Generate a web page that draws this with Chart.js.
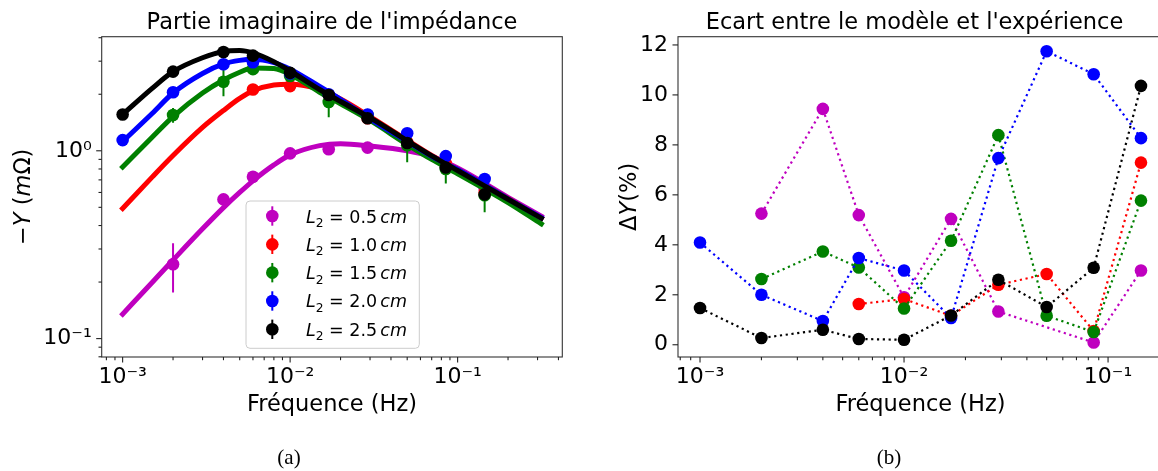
<!DOCTYPE html>
<html><head><meta charset="utf-8">
<script src="https://cdn.jsdelivr.net/npm/chart.js@4.4.1/dist/chart.umd.min.js"></script>
<style>
html,body{margin:0;padding:0;background:#fff;overflow:hidden;width:1158px;height:471px;position:relative;}
#ca{position:absolute;left:0;top:0;}
#cb{position:absolute;left:579px;top:0;}
</style></head><body>
<canvas id="ca" width="579" height="471"></canvas>
<canvas id="cb" width="621" height="471"></canvas>
<script>
// ---------- data ----------
const freqs = [0.001, 0.002, 0.004, 0.006, 0.01, 0.017, 0.029, 0.05, 0.085, 0.145];
const seriesNames = ['0.5', '1.0', '1.5', '2.0', '2.5'];
const seriesColors = ['#bf00bf', '#ff0000', '#008000', '#0000ff', '#000000'];

// (a) measured -Y (mOhm)
const measL05 = [null, 0.249, 0.551, 0.727, 0.969, 1.02, 1.04, null, 0.85, 0.63];
const measL10 = [null, null, null, 2.12, 2.21, 1.98, 1.49, 1.11, 0.855, 0.60];
const measL15 = [null, 1.55, 2.33, 2.72, 2.50, 1.82, 1.55, 1.07, 0.80, 0.58];
const measL20 = [1.14, 2.05, 2.89, 2.96, 2.58, 2.00, 1.56, 1.24, 0.937, 0.707];
const measL25 = [1.56, 2.64, 3.36, 3.21, 2.60, 1.98, 1.49, 1.10, 0.815, 0.586];
// (a) error bars
const errL05 = [null, 0.073, 0.015, 0.02, 0.02, 0.02, 0.02, null, 0.02, 0.02];
const errL10 = [null, null, null, 0.03, 0.03, 0.03, 0.03, 0.03, 0.03, 0.03];
const errL15 = [null, 0.14, 0.38, 0.06, 0.06, 0.31, 0.06, 0.20, 0.13, 0.11];
const errL20 = [0.03, 0.05, 0.05, 0.05, 0.05, 0.05, 0.03, 0.03, 0.02, 0.02];
const errL25 = [0.03, 0.05, 0.05, 0.05, 0.05, 0.05, 0.03, 0.03, 0.02, 0.02];
// (a) model curves
const modelFreqs = [0.001, 0.0015, 0.002, 0.003, 0.004, 0.005, 0.006, 0.008, 0.01, 0.015, 0.02, 0.03, 0.05, 0.07, 0.1, 0.2, 0.316];
const modelL05 = [0.135, 0.199, 0.262, 0.384, 0.498, 0.60, 0.692, 0.841, 0.951, 1.065, 1.09, 1.06, 1.00, 0.93, 0.81, 0.565, 0.448];
const modelL10 = [0.493, 0.724, 0.944, 1.332, 1.639, 1.90, 2.085, 2.24, 2.26, 2.12, 1.886, 1.52, 1.14, 0.945, 0.795, 0.557, 0.438];
const modelL15 = [0.82, 1.18, 1.52, 2.03, 2.38, 2.62, 2.76, 2.74, 2.55, 2.05, 1.78, 1.45, 1.08, 0.90, 0.755, 0.53, 0.408];
const modelL20 = [1.12, 1.58, 2.03, 2.58, 2.90, 3.03, 3.07, 2.95, 2.72, 2.20, 1.88, 1.48, 1.12, 0.935, 0.795, 0.555, 0.44];
const modelL25 = [1.56, 2.15, 2.64, 3.13, 3.38, 3.42, 3.32, 2.98, 2.66, 2.12, 1.83, 1.50, 1.13, 0.94, 0.785, 0.552, 0.438];

// (b) deviation model / experiment (%)
const ecartL05 = [null, 5.25, 9.44, 5.19, 1.90, 5.04, 1.33, null, 0.09, 2.97];
const ecartL10 = [null, null, null, 1.63, 1.83, 1.16, 2.40, 2.83, 0.55, 7.29];
const ecartL15 = [null, 2.63, 3.73, 3.09, 1.45, 4.16, 8.39, 1.16, 0.51, 5.77];
const ecartL20 = [4.09, 2.00, 0.95, 3.47, 2.97, 1.07, 7.47, 11.75, 10.83, 8.27];
const ecartL25 = [1.47, 0.27, 0.60, 0.23, 0.20, 1.17, 2.60, 1.51, 3.08, 10.36];

// tick labels
const xTickVals = [0.001, 0.01, 0.1];
const xTickLabels = ['10\u207B\u00B3', '10\u207B\u00B2', '10\u207B\u00B9'];
const yTickValsA = [0.1, 1];
const yTickLabelsA = ['10\u207B\u00B9', '10\u2070'];
const yTickValsB = [0, 2, 4, 6, 8, 10, 12];
const yTickLabelsB = ['0', '2', '4', '6', '8', '10', '12'];

// axis ranges
const XA_MIN = 7.5e-4, XA_MAX = 0.4217, YA_MIN = 0.0798, YA_MAX = 4.05;
const XB_MIN = 7.8e-4, XB_MAX = 0.1859, YB_MIN = -0.49, YB_MAX = 12.33;

// ---------- helpers ----------
const FONT = '"DejaVu Sans"';
const TICK_SIZE = 22, LABEL_SIZE = 22.5, TITLE_SIZE = 22.5;
Chart.defaults.font.family = FONT;
Chart.defaults.color = '#000';

function segFont(g, size) { return (g.i ? 'italic ' : '') + (size * (g.s || 1)).toFixed(2) + 'px ' + FONT; }
function measureRich(ctx, segs, size) {
  let w = 0;
  for (const g of segs) { if (g.sp != null) { w += g.sp; continue; } ctx.font = segFont(g, size); w += ctx.measureText(g.t).width; }
  return w;
}
function drawRich(ctx, segs, x, y, size, align, rot) {
  ctx.save(); ctx.translate(x, y); if (rot) ctx.rotate(rot);
  const w = measureRich(ctx, segs, size);
  let cx = align === 'center' ? -w / 2 : 0;
  ctx.textBaseline = 'alphabetic'; ctx.textAlign = 'left'; ctx.fillStyle = '#000';
  for (const g of segs) {
    if (g.sp != null) { cx += g.sp; continue; }
    ctx.font = segFont(g, size); ctx.fillText(g.t, cx, g.dy || 0); cx += ctx.measureText(g.t).width;
  }
  ctx.restore();
}
function logTicks(scale) {
  const t = [];
  for (let e = -5; e <= 2; e++) for (let k = 1; k <= 9; k++) {
    const v = k * Math.pow(10, e);
    if (v >= scale.min * 0.99999 && v <= scale.max * 1.00001) t.push({ value: v, major: k === 1 });
  }
  scale.ticks = t;
}
function fixedTicks(vals) { return (scale) => { scale.ticks = vals.map(v => ({ value: v, major: true })); }; }
function labelFrom(vals, labels) {
  return (value) => { const i = vals.findIndex(v => Math.abs(v - value) <= Math.abs(v) * 1e-6 + 1e-12); return i >= 0 ? labels[i] : ''; };
}
const hiddenGrid = { display: true, drawOnChartArea: false, drawTicks: true, tickLength: 5, tickColor: 'rgba(0,0,0,0)', color: 'rgba(0,0,0,0)' };

function decorPlugin(cfg) {
  return {
    id: 'decor' + cfg.key,
    beforeDatasetDraw(chart, args) {
      const ds = chart.data.datasets[args.index];
      if (!ds.withErrors) return;
      const ctx = chart.ctx, a = chart.chartArea, xs = chart.scales.x, ys = chart.scales.y;
      ctx.save(); ctx.beginPath(); ctx.rect(a.left, a.top, a.right - a.left, a.bottom - a.top); ctx.clip();
      ctx.strokeStyle = ds.pointBackgroundColor; ctx.lineWidth = 2;
      for (const p of ds.data) {
        if (p.y == null || p.e == null) continue;
        const px = xs.getPixelForValue(p.x);
        const y1 = ys.getPixelForValue(Math.max(p.y - p.e, 1e-6)), y2 = ys.getPixelForValue(p.y + p.e);
        ctx.beginPath(); ctx.moveTo(px, y1); ctx.lineTo(px, y2); ctx.stroke();
      }
      ctx.restore();
    },
    afterDatasetsDraw(chart) {
      const ctx = chart.ctx, a = chart.chartArea;
      ctx.save(); ctx.strokeStyle = '#333'; ctx.lineWidth = 1.1;
      ctx.strokeRect(a.left, a.top, a.right - a.left, a.bottom - a.top);
      ctx.restore();
    },
    afterDraw(chart) {
      const ctx = chart.ctx, a = chart.chartArea;
      ctx.save(); ctx.strokeStyle = '#222'; ctx.lineWidth = 1.1;
      for (const t of chart.scales.x.ticks) {
        const px = chart.scales.x.getPixelForValue(t.value);
        const len = t.major ? 5.5 : 3.2;
        ctx.beginPath(); ctx.moveTo(px, a.bottom); ctx.lineTo(px, a.bottom + len); ctx.stroke();
      }
      for (const t of chart.scales.y.ticks) {
        const py = chart.scales.y.getPixelForValue(t.value);
        const len = t.major ? 5.5 : 3.2;
        ctx.beginPath(); ctx.moveTo(a.left, py); ctx.lineTo(a.left - len, py); ctx.stroke();
      }
      ctx.restore();
      const cx = (a.left + a.right) / 2;
      drawRich(ctx, [{ t: cfg.title }], cfg.titleX, 28.5, TITLE_SIZE, 'center');
      drawRich(ctx, [{ t: 'Fréquence (Hz)' }], cx, 411, LABEL_SIZE, 'center');
      drawRich(ctx, cfg.ylabel, cfg.ylabelX, (a.top + a.bottom) / 2, LABEL_SIZE, 'center', -Math.PI / 2);
      ctx.save(); ctx.font = '21px "Liberation Serif"'; ctx.fillStyle = '#000'; ctx.textAlign = 'center'; ctx.textBaseline = 'alphabetic';
      ctx.fillText(cfg.caption, cfg.captionX, 464); ctx.restore();
      if (cfg.legend) drawLegend(ctx);
    }
  };
}

function drawLegend(ctx) {
  const bx = 246, by = 201, bw = 173.3, bh = 147.3, r = 4;
  ctx.save();
  ctx.beginPath();
  ctx.moveTo(bx + r, by); ctx.lineTo(bx + bw - r, by); ctx.quadraticCurveTo(bx + bw, by, bx + bw, by + r);
  ctx.lineTo(bx + bw, by + bh - r); ctx.quadraticCurveTo(bx + bw, by + bh, bx + bw - r, by + bh);
  ctx.lineTo(bx + r, by + bh); ctx.quadraticCurveTo(bx, by + bh, bx, by + bh - r);
  ctx.lineTo(bx, by + r); ctx.quadraticCurveTo(bx, by, bx + r, by); ctx.closePath();
  ctx.fillStyle = 'rgba(255,255,255,0.8)'; ctx.fill();
  ctx.strokeStyle = '#cccccc'; ctx.lineWidth = 1; ctx.stroke();
  for (let k = 0; k < 5; k++) {
    const y = 216 + k * 28.33, mx = 272.3;
    ctx.strokeStyle = seriesColors[k]; ctx.lineWidth = 2;
    ctx.beginPath(); ctx.moveTo(mx, y - 9.7); ctx.lineTo(mx, y + 9.7); ctx.stroke();
    ctx.fillStyle = seriesColors[k]; ctx.beginPath(); ctx.arc(mx, y, 6.3, 0, Math.PI * 2); ctx.fill();
    drawRich(ctx, [
      { t: 'L', i: true }, { t: '2', s: 0.7, dy: 4.6 }, { sp: 5.5 }, { t: '=' }, { sp: 5.6 },
      { t: seriesNames[k] }, { sp: 3.2 }, { t: 'cm', i: true }
    ], 306, y + 6.5, 17.5, 'left');
  }
  ctx.restore();
}

// ---------- chart (a) ----------
const measured = [measL05, measL10, measL15, measL20, measL25];
const errors = [errL05, errL10, errL15, errL20, errL25];
const models = [modelL05, modelL10, modelL15, modelL20, modelL25];
const ecarts = [ecartL05, ecartL10, ecartL15, ecartL20, ecartL25];

const dsA = [];
for (let k = 0; k < 5; k++) {
  dsA.push({
    label: 'L2 = ' + seriesNames[k] + ' cm', type: 'line', showLine: false, withErrors: true,
    data: freqs.map((f, i) => ({ x: f, y: measured[k][i], e: errors[k][i] })).filter(p => p.y != null),
    pointRadius: 6.3, pointHoverRadius: 6.3, pointBackgroundColor: seriesColors[k], pointBorderWidth: 0,
    borderColor: seriesColors[k], order: 10 - 2 * k
  });
  dsA.push({
    label: 'model ' + seriesNames[k], type: 'line', fill: false,
    data: modelFreqs.map((f, i) => ({ x: f, y: models[k][i] })),
    borderColor: seriesColors[k], borderWidth: 5, pointRadius: 0, pointHoverRadius: 0,
    cubicInterpolationMode: 'monotone', borderCapStyle: 'square', borderJoinStyle: 'round', order: 9 - 2 * k
  });
}

new Chart(document.getElementById('ca'), {
  type: 'line',
  data: { datasets: dsA },
  options: {
    responsive: false, animation: false, events: [],
    layout: { padding: { left: 41.7, right: 16.7, top: 36.7, bottom: 74 } },
    plugins: { legend: { display: false }, tooltip: { enabled: false }, title: { display: false } },
    scales: {
      x: {
        type: 'logarithmic', position: 'bottom', min: XA_MIN, max: XA_MAX,
        afterBuildTicks: logTicks, afterFit: s => { s.height = 40; },
        grid: hiddenGrid, border: { display: false },
        ticks: { autoSkip: false, maxRotation: 0, minRotation: 0, padding: 2, font: { size: TICK_SIZE }, color: '#000', callback: labelFrom(xTickVals, xTickLabels) }
      },
      y: {
        type: 'logarithmic', position: 'left', min: YA_MIN, max: YA_MAX,
        afterBuildTicks: logTicks, afterFit: s => { s.width = 60; },
        grid: hiddenGrid, border: { display: false },
        ticks: { autoSkip: false, padding: 5, font: { size: TICK_SIZE }, color: '#000', callback: labelFrom(yTickValsA, yTickLabelsA) }
      }
    }
  },
  plugins: [decorPlugin({
    key: 'a', title: "Partie imaginaire de l'impédance", titleX: 332,
    ylabel: [{ t: '\u2212' }, { t: 'Y', i: true }, { t: ' (' }, { t: 'm', i: true }, { t: '\u03A9)' }],
    ylabelX: 29.5, caption: '(a)', captionX: 289, legend: true
  })]
});

// ---------- chart (b) ----------
const dsB = [];
for (let k = 0; k < 5; k++) {
  dsB.push({
    label: 'L2 = ' + seriesNames[k] + ' cm', type: 'line', fill: false, spanGaps: true,
    data: freqs.map((f, i) => ({ x: f, y: ecarts[k][i] })),
    borderColor: seriesColors[k], borderWidth: 2.2, borderDash: [2.2, 3.6], borderCapStyle: 'butt', tension: 0,
    pointRadius: 6.3, pointHoverRadius: 6.3, pointBackgroundColor: seriesColors[k], pointBorderWidth: 0,
    order: 5 - k
  });
}

new Chart(document.getElementById('cb'), {
  type: 'line',
  data: { datasets: dsB },
  options: {
    responsive: false, animation: false, events: [],
    layout: { padding: { left: 39, right: 37, top: 36.7, bottom: 74 } },
    plugins: { legend: { display: false }, tooltip: { enabled: false }, title: { display: false } },
    scales: {
      x: {
        type: 'logarithmic', position: 'bottom', min: XB_MIN, max: XB_MAX,
        afterBuildTicks: logTicks, afterFit: s => { s.height = 40; },
        grid: hiddenGrid, border: { display: false },
        ticks: { autoSkip: false, maxRotation: 0, minRotation: 0, padding: 2, font: { size: TICK_SIZE }, color: '#000', callback: labelFrom(xTickVals, xTickLabels) }
      },
      y: {
        type: 'linear', position: 'left', min: YB_MIN, max: YB_MAX,
        afterBuildTicks: fixedTicks(yTickValsB), afterFit: s => { s.width = 60; },
        grid: hiddenGrid, border: { display: false },
        ticks: { autoSkip: false, padding: 5, font: { size: TICK_SIZE }, color: '#000', callback: labelFrom(yTickValsB, yTickLabelsB) }
      }
    }
  },
  plugins: [decorPlugin({
    key: 'b', title: "Ecart entre le modèle et l'expérience", titleX: 335.5,
    ylabel: [{ t: '\u0394' }, { t: 'Y', i: true }, { t: '(%)' }],
    ylabelX: 57, caption: '(b)', captionX: 310, legend: false
  })]
});
</script>
</body></html>
